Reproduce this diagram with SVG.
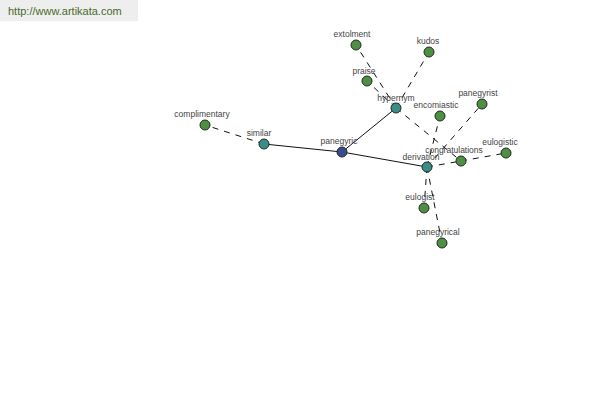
<svg xmlns="http://www.w3.org/2000/svg" width="600" height="400" viewBox="0 0 600 400">
<style>
.n{stroke:#1e2a1e;stroke-width:1}
.g{fill:#4f8f45}
.t{fill:#3c8c88}
.b{fill:#3a4a8c}
.l{font-family:"Liberation Sans",Arial,sans-serif;font-size:8.5px;fill:#444;text-anchor:middle}
.s{stroke:#111;stroke-width:1;fill:none}
.d{stroke:#111;stroke-width:1;fill:none;stroke-dasharray:6,6}
</style>
<rect width="600" height="400" fill="#fff"/>
<rect x="0" y="0" width="138" height="21" fill="#eeeeee"/>
<text x="8" y="15" font-family="'Liberation Sans',Arial,sans-serif" font-size="11" fill="#4a6a2a">http://www.artikata.com</text>
<g id="connectors">
<line class="s" x1="342" y1="152" x2="264" y2="144"/>
<line class="s" x1="342" y1="152" x2="396" y2="108"/>
<line class="s" x1="342" y1="152" x2="427" y2="167"/>
<line class="d" x1="264" y1="144" x2="205" y2="125"/>
<line class="d" x1="396" y1="108" x2="356" y2="45"/>
<line class="d" x1="396" y1="108" x2="367" y2="81"/>
<line class="d" x1="396" y1="108" x2="429" y2="52"/>
<line class="d" x1="396" y1="108" x2="461" y2="161"/>
<line class="d" x1="427" y1="167" x2="440" y2="116"/>
<line class="d" x1="427" y1="167" x2="482" y2="104"/>
<line class="d" x1="427" y1="167" x2="461" y2="161"/>
<line class="d" x1="461" y1="161" x2="506" y2="153"/>
<line class="d" x1="427" y1="167" x2="424" y2="208"/>
<line class="d" x1="427" y1="167" x2="442" y2="243"/>
</g>
<g id="complimentary"><circle class="n g" cx="205" cy="125" r="5"/><text class="l" x="202" y="117">complimentary</text></g>
<g id="similar"><circle class="n t" cx="264" cy="144" r="5"/><text class="l" x="259" y="136">similar</text></g>
<g id="panegyric"><circle class="n b" cx="342" cy="152" r="5"/><text class="l" x="339" y="144">panegyric</text></g>
<g id="hypernym"><circle class="n t" cx="396" cy="108" r="5"/><text class="l" x="396" y="101">hypernym</text></g>
<g id="derivation"><circle class="n t" cx="427" cy="167" r="5"/><text class="l" x="421" y="160">derivation</text></g>
<g id="extolment"><circle class="n g" cx="356" cy="45" r="5"/><text class="l" x="352" y="37">extolment</text></g>
<g id="kudos"><circle class="n g" cx="429" cy="52" r="5"/><text class="l" x="428" y="44">kudos</text></g>
<g id="praise"><circle class="n g" cx="367" cy="81" r="5"/><text class="l" x="364" y="74">praise</text></g>
<g id="encomiastic"><circle class="n g" cx="440" cy="116" r="5"/><text class="l" x="436" y="108">encomiastic</text></g>
<g id="panegyrist"><circle class="n g" cx="482" cy="104" r="5"/><text class="l" x="478" y="96">panegyrist</text></g>
<g id="congratulations"><circle class="n g" cx="461" cy="161" r="5"/><text class="l" x="454" y="153">congratulations</text></g>
<g id="eulogistic"><circle class="n g" cx="506" cy="153" r="5"/><text class="l" x="500" y="145">eulogistic</text></g>
<g id="eulogist"><circle class="n g" cx="424" cy="208" r="5"/><text class="l" x="420" y="200">eulogist</text></g>
<g id="panegyrical"><circle class="n g" cx="442" cy="243" r="5"/><text class="l" x="438" y="235">panegyrical</text></g>
</svg>
